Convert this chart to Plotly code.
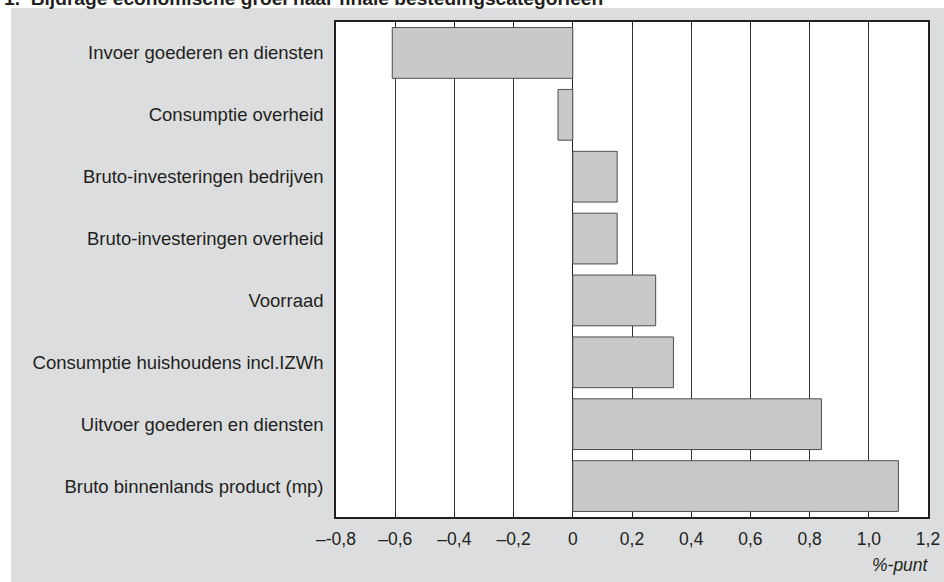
import plotly.graph_objects as go

# bijdrage aan de groei, in %-punt (boven naar beneden)
categories = [
    "Invoer goederen en diensten",
    "Consumptie overheid",
    "Bruto-investeringen bedrijven",
    "Bruto-investeringen overheid",
    "Voorraad",
    "Consumptie huishoudens incl.IZWh",
    "Uitvoer goederen en diensten",
    "Bruto binnenlands product (mp)",
]
values = [-0.61, -0.05, 0.15, 0.15, 0.28, 0.34, 0.84, 1.10]

tick_vals = [-0.8, -0.6, -0.4, -0.2, 0, 0.2, 0.4, 0.6, 0.8, 1.0, 1.2]
tick_text = ["–-0,8", "–0,6", "–0,4", "–0,2", "0", "0,2", "0,4", "0,6", "0,8", "1,0", "1,2"]

title = "1.  Bijdrage economische groei naar finale bestedingscategorieën"
unit = "%-punt"

W, H = 944, 582
L, R, T, B = 336, 16, 22, 65
pw, ph = W - L - R, H - T - B


def px_x(x):
    return (x - L) / pw


def px_y(y):
    return (H - B - y) / ph


FONT = "Liberation Sans, Arial, sans-serif"
DARK = "#231F20"
GRAY_BG = "#DCDDDE"

fig = go.Figure()
fig.add_trace(go.Bar(
    x=values, y=categories, orientation="h",
    marker=dict(color="#C8C9CB", line=dict(color="#4D4D4F", width=1)),
    showlegend=False,
))

fig.update_layout(
    width=W, height=H,
    margin=dict(l=L, r=R, t=T, b=B),
    paper_bgcolor=GRAY_BG,
    plot_bgcolor="white",
    bargap=0.18,
    font=dict(family=FONT, size=18.5, color=DARK),
    xaxis=dict(
        range=[-0.8, 1.2], tickvals=tick_vals, ticktext=tick_text,
        showgrid=True, gridcolor="#333333", gridwidth=1,
        zeroline=True, zerolinecolor=DARK, zerolinewidth=1,
        showline=True, linecolor=DARK, linewidth=1.5, mirror="ticks",
        ticks="inside", ticklen=5, tickcolor=DARK,
        tickfont=dict(size=17.5), ticklabelstandoff=5,
        automargin=False, fixedrange=True,
    ),
    yaxis=dict(
        autorange="reversed",
        showgrid=False, showline=True, linecolor=DARK, linewidth=1.5, mirror=True,
        ticks="", ticklabelstandoff=7,
        automargin=False, fixedrange=True,
    ),
    shapes=[
        # wit kader boven en links van het grijze vlak
        dict(type="rect", xref="paper", yref="paper", layer="below",
             x0=px_x(-10), x1=px_x(W + 10), y0=px_y(8), y1=px_y(-10),
             fillcolor="white", line_width=0),
        dict(type="rect", xref="paper", yref="paper", layer="below",
             x0=px_x(-10), x1=px_x(11), y0=px_y(H + 10), y1=px_y(-10),
             fillcolor="white", line_width=0),
    ],
    annotations=[
        # titel valt in het origineel grotendeels buiten beeld
        dict(text="<b>" + title + "</b>", xref="paper", yref="paper",
             x=px_x(2), y=px_y(11), xanchor="left", yanchor="bottom",
             showarrow=False, font=dict(size=19.2, color=DARK)),
        dict(text="<i>" + unit + "</i>", xref="paper", yref="paper",
             x=px_x(931), y=px_y(565), xanchor="right", yanchor="middle",
             showarrow=False, font=dict(size=17.5, color=DARK)),
    ],
)

# de standaard body-marge van 8px weghalen zodat de figuur het venster vult
fig.write_html(
    "out.html",
    config={"displayModeBar": False},
    post_script="document.body.style.margin='0';document.body.style.overflow='hidden';",
)
